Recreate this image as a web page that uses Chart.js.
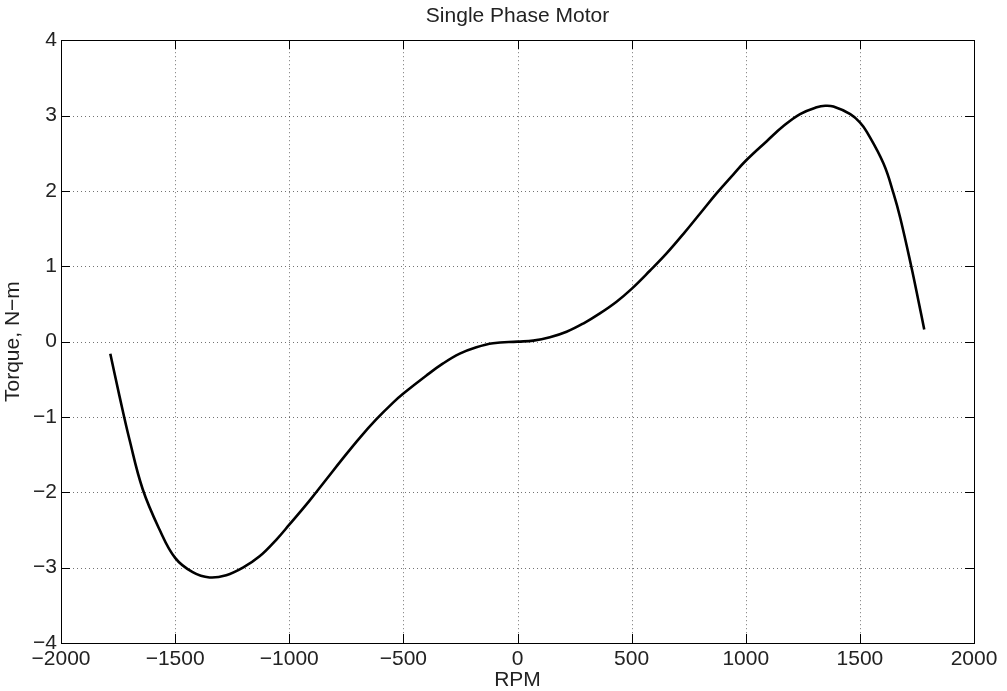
<!DOCTYPE html>
<html>
<head>
<meta charset="utf-8">
<title>Single Phase Motor</title>
<script src="https://cdn.jsdelivr.net/npm/chart.js@4/dist/chart.umd.min.js"></script>
<style>
	html, body { margin: 0; padding: 0; background: #fff; }
	#wrap { width: 1007px; height: 691px; }
</style>
</head>
<body>
<div id="wrap"><canvas id="myChart" width="1007" height="691"></canvas></div>
<script>
var titleText = "Single Phase Motor";
var xTitle = "RPM";
var yTitle = "Torque, N\u2212m";

// values
var rpm = [-1784, -1744, -1700, -1642, -1569, -1500, -1423, -1349, -1276, -1203, -1130, -1057, -1000, -911, -838, -765, -692, -618, -545, -500, -399, -326, -253, -180, -107, 0,
	69, 142, 215, 288, 361, 434, 500, 580, 653, 727, 800, 873, 946, 1000, 1092, 1165, 1238, 1311, 1348, 1384, 1458, 1500, 1531, 1604, 1648, 1677, 1725, 1756, 1782];
var torque = [-0.16, -0.72, -1.30, -1.96, -2.49, -2.87, -3.06, -3.13, -3.10, -3.00, -2.85, -2.63, -2.43, -2.11, -1.83, -1.55, -1.28, -1.03, -0.81, -0.69, -0.45, -0.29, -0.16, -0.075, -0.022, 0,
	0.013, 0.057, 0.13, 0.24, 0.375, 0.53, 0.70, 0.94, 1.17, 1.43, 1.70, 1.97, 2.22, 2.40, 2.66, 2.86, 3.02, 3.11, 3.13, 3.12, 3.02, 2.91, 2.78, 2.36, 1.96, 1.64, 1.00, 0.55, 0.16];

var xTicks = [-2000, -1500, -1000, -500, 0, 500, 1000, 1500, 2000];
var yTicks = [-4, -3, -2, -1, 0, 1, 2, 3, 4];

var font = "'Liberation Sans', Helvetica, Arial, sans-serif";
var textColor = "#222";

var points = rpm.map((r, i) => ({ x: r, y: torque[i] }));

function fmt(v) {
	return v < 0 ? "\u2212" + Math.abs(v) : String(v);
}

// matlab style box: dotted grid, frame, inward ticks on all sides
var matlabAxes = {
	id: "matlabAxes",
	beforeDatasetsDraw(chart) {
		var ctx = chart.ctx;
		var a = chart.chartArea;
		var xs = chart.scales.x;
		var ys = chart.scales.y;
		ctx.save();
		ctx.strokeStyle = "rgba(0,0,0,0.55)";
		ctx.lineWidth = 1;
		ctx.setLineDash([1, 3]);
		xTicks.forEach((t) => {
			if (t == xTicks[0] || t == xTicks[xTicks.length - 1]) return;
			var px = Math.round(xs.getPixelForValue(t)) + 0.5;
			ctx.beginPath();
			ctx.moveTo(px, a.top);
			ctx.lineTo(px, a.bottom);
			ctx.stroke();
		});
		yTicks.forEach((t) => {
			if (t == yTicks[0] || t == yTicks[yTicks.length - 1]) return;
			var py = Math.round(ys.getPixelForValue(t)) + 0.5;
			ctx.beginPath();
			ctx.moveTo(a.left, py);
			ctx.lineTo(a.right, py);
			ctx.stroke();
		});
		ctx.restore();
	},
	afterDatasetsDraw(chart) {
		var ctx = chart.ctx;
		var a = chart.chartArea;
		var xs = chart.scales.x;
		var ys = chart.scales.y;
		var len = 9;
		ctx.save();
		ctx.strokeStyle = "#000";
		ctx.lineWidth = 1;
		ctx.strokeRect(Math.round(a.left) + 0.5, Math.round(a.top) + 0.5, Math.round(a.right - a.left), Math.round(a.bottom - a.top));
		ctx.beginPath();
		xTicks.forEach((t) => {
			var px = Math.round(xs.getPixelForValue(t)) + 0.5;
			ctx.moveTo(px, a.bottom);
			ctx.lineTo(px, a.bottom - len);
			ctx.moveTo(px, a.top);
			ctx.lineTo(px, a.top + len);
		});
		yTicks.forEach((t) => {
			var py = Math.round(ys.getPixelForValue(t)) + 0.5;
			ctx.moveTo(a.left, py);
			ctx.lineTo(a.left + len, py);
			ctx.moveTo(a.right, py);
			ctx.lineTo(a.right - len, py);
		});
		ctx.stroke();
		ctx.restore();
	},
};

const ctx = document.getElementById("myChart").getContext("2d");
var chart = new Chart(ctx, {
	type: "scatter",
	data: {
		datasets: [
			{
				label: "Torque",
				data: points,
				showLine: true,
				borderColor: "#000",
				borderWidth: 2.6,
				pointRadius: 0,
				fill: false,
				tension: 0.4,
			},
		],
	},
	options: {
		responsive: false,
		animation: false,
		devicePixelRatio: 1,
		layout: {
			padding: { left: 0, right: 33, top: 0, bottom: 0 },
		},
		plugins: {
			legend: { display: false },
			tooltip: { enabled: false },
			title: {
				display: true,
				text: titleText,
				fullSize: false,
				color: textColor,
				font: { family: font, size: 21, weight: "normal", lineHeight: 1.2 },
				padding: { top: 4, bottom: 11 },
			},
		},
		scales: {
			x: {
				type: "linear",
				position: "bottom",
				min: xTicks[0],
				max: xTicks[xTicks.length - 1],
				afterBuildTicks: (s) => {
					s.ticks = xTicks.map((v) => ({ value: v }));
				},
				afterFit: (s) => {
					s.height = 48;
				},
				grid: { display: false, drawTicks: false },
				border: { display: false },
				ticks: {
					color: textColor,
					font: { family: font, size: 21, lineHeight: 1.2 },
					padding: 4,
					maxRotation: 0,
					autoSkip: false,
					callback: (v) => fmt(v),
				},
				title: {
					display: true,
					text: xTitle,
					color: textColor,
					font: { family: font, size: 21, lineHeight: 1 },
					padding: 0,
				},
			},
			y: {
				type: "linear",
				min: yTicks[0],
				max: yTicks[yTicks.length - 1],
				afterBuildTicks: (s) => {
					s.ticks = yTicks.map((v) => ({ value: v }));
				},
				afterFit: (s) => {
					s.width = 61;
				},
				grid: { display: false, drawTicks: false },
				border: { display: false },
				ticks: {
					color: textColor,
					font: { family: font, size: 21, lineHeight: 1.2 },
					padding: 4,
					autoSkip: false,
					callback: (v) => fmt(v),
				},
				title: {
					display: true,
					text: yTitle,
					color: textColor,
					font: { family: font, size: 21, lineHeight: 1 },
					padding: { top: 3, bottom: 0 },
				},
			},
		},
	},
	plugins: [matlabAxes],
});
</script>
</body>
</html>
